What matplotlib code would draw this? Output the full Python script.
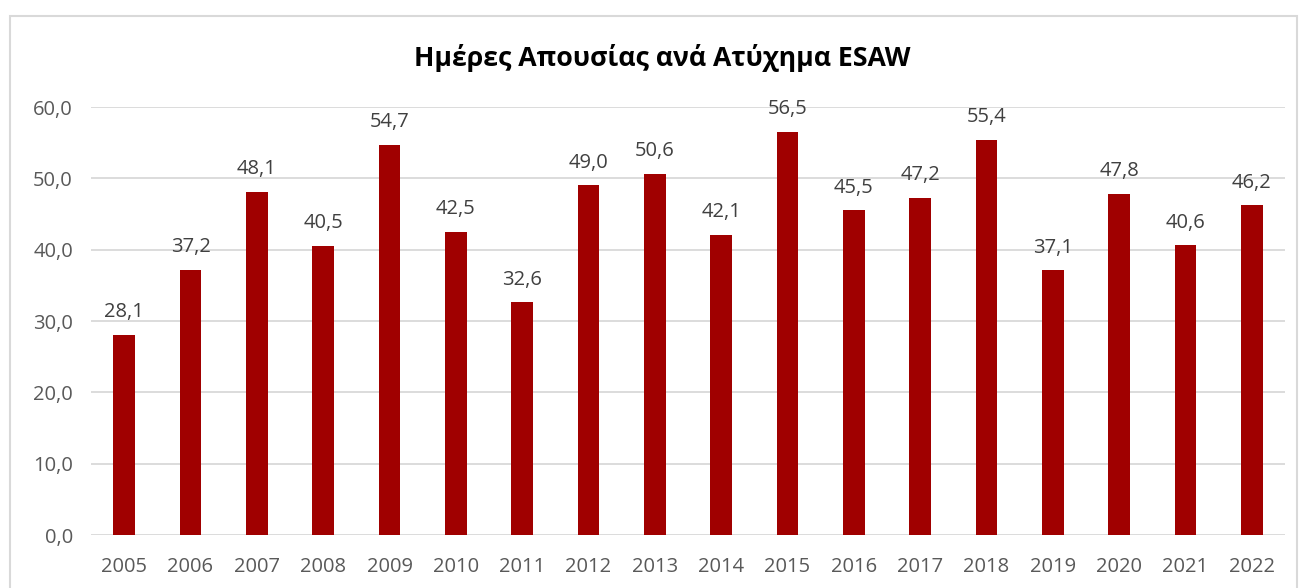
import matplotlib
matplotlib.use("Agg")
import matplotlib.pyplot as plt
from matplotlib.patches import Rectangle

years = ["2005", "2006", "2007", "2008", "2009", "2010", "2011", "2012", "2013",
         "2014", "2015", "2016", "2017", "2018", "2019", "2020", "2021", "2022"]
days = [28.1, 37.2, 48.1, 40.5, 54.7, 42.5, 32.6, 49.0, 50.6,
        42.1, 56.5, 45.5, 47.2, 55.4, 37.1, 47.8, 40.6, 46.2]
yticks = [0, 10, 20, 30, 40, 50, 60]

plt.rcParams["font.family"] = ["Open Sans", "DejaVu Sans"]

fig = plt.figure(figsize=(13.04, 5.88), dpi=100)
ax = fig.add_axes([91 / 1304, 1 - 535 / 588, 1194 / 1304, (535 - 107) / 588])

# outer chart frame
fig.patches.append(Rectangle((10 / 1304, -0.05), 1287 / 1304, 1 - 16 / 588 + 0.05,
                             transform=fig.transFigure, fill=False,
                             edgecolor="#d9d9d9", linewidth=1.5))

x = range(len(years))
ax.bar(x, days, width=0.33, color="#a00000", zorder=3)
for xi, v in zip(x, days):
    ax.text(xi, v + 1.8, f"{v:.1f}".replace(".", ","), ha="center", va="bottom",
            fontsize=14.5, color="#404040")

ax.set_xlim(-0.5, len(years) - 0.5)
ax.set_ylim(0, 60)
ax.set_yticks(yticks)
ax.set_yticklabels([f"{t:.1f}".replace(".", ",") for t in yticks])
ax.set_xticks(list(x))
ax.set_xticklabels(years)
ax.tick_params(length=0, labelsize=14.5, labelcolor="#595959")
ax.tick_params(axis="y", pad=13)
ax.tick_params(axis="x", pad=16)
ax.grid(axis="y", color="#d9d9d9", linewidth=1.3, zorder=0)
for s in ax.spines.values():
    s.set_visible(False)

fig.text(662 / 1304, 1 - 58 / 588, "Ημέρες Απουσίας ανά Ατύχημα ESAW", ha="center", va="center",
         fontsize=19.2, fontweight="bold", color="#000000")

fig.savefig("out.png", dpi=100)
